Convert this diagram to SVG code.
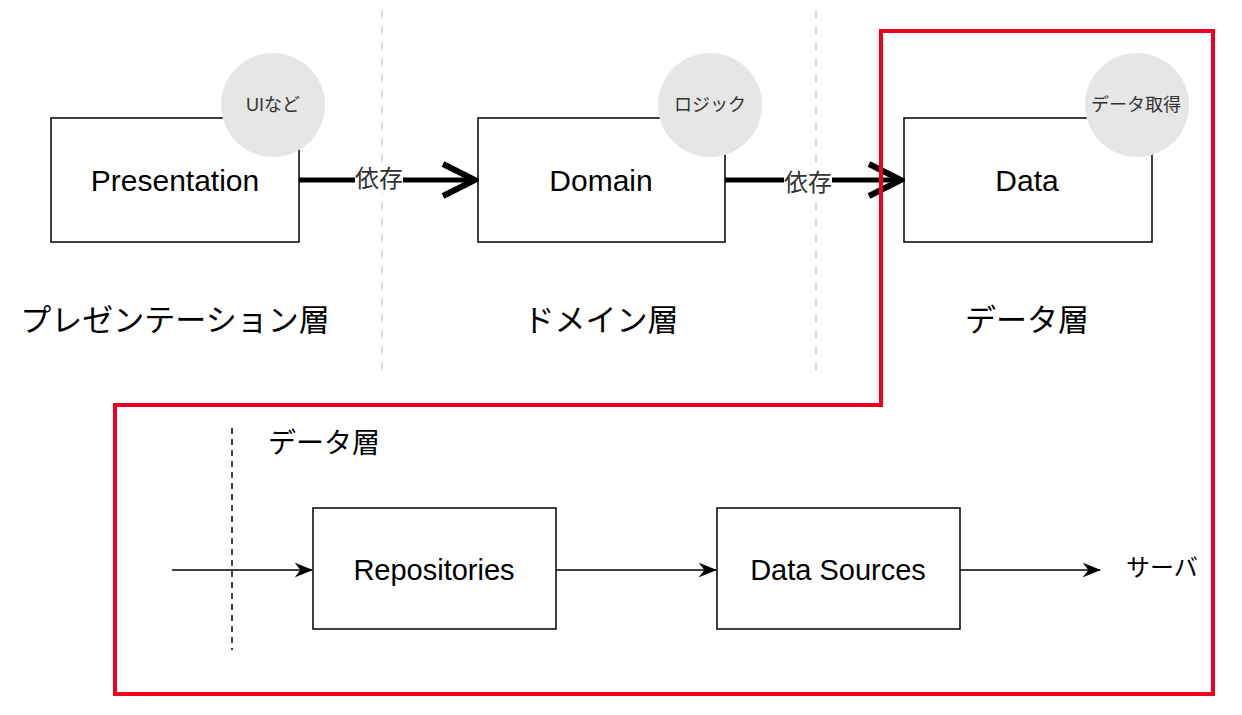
<svg xmlns="http://www.w3.org/2000/svg" width="1242" height="715" viewBox="0 0 1242 715">
<style>
.box{fill:#fff;stroke:#000;stroke-width:1.5}
.circ{fill:#e6e6e6;stroke:none}
.t{font-family:"Liberation Sans","Noto Sans CJK JP",sans-serif;fill:#000;text-anchor:middle;dominant-baseline:central}
.ct{font-family:"Liberation Sans","Noto Sans CJK JP",sans-serif;fill:#333;text-anchor:middle;dominant-baseline:central;font-size:18px}
.sep{stroke:#ddd;stroke-width:2;stroke-dasharray:8 8;fill:none}
.thick{stroke:#000;stroke-width:5;fill:none}
.thin{stroke:#000;stroke-width:1.5;fill:none}
</style>
<defs>
<marker id="open" viewBox="0 0 10 10" refX="9" refY="5" markerWidth="8" markerHeight="8" markerUnits="strokeWidth" orient="auto">
<path d="M1,1 L9,5 L1,9" fill="none" stroke="#000" stroke-width="1.5"/>
</marker>
<marker id="fill" viewBox="0 0 10 10" refX="9.5" refY="5" markerWidth="18" markerHeight="18" markerUnits="userSpaceOnUse" orient="auto">
<path d="M0,1 L10,5 L0,9 L3,5 Z" fill="#000"/>
</marker>
</defs>
<rect width="1242" height="715" fill="#fff"/>
<g id="separators">
<line class="sep" x1="382" y1="10" x2="382" y2="372"/>
<line class="sep" x1="816" y1="10" x2="816" y2="372"/>
</g>
<g id="presentation">
<rect class="box" x="51" y="118" width="248" height="124"/>
<text class="t" x="175" y="180" font-size="30">Presentation</text>
<circle class="circ" cx="273" cy="105" r="52"/>
<text class="ct" x="273" y="105">UIなど</text>
</g>
<g id="domain">
<rect class="box" x="478" y="118" width="247" height="124"/>
<text class="t" x="601" y="180" font-size="30">Domain</text>
<circle class="circ" cx="710" cy="105" r="52"/>
<text class="ct" x="710" y="105">ロジック</text>
</g>
<g id="data">
<rect class="box" x="904" y="118" width="248" height="124"/>
<text class="t" x="1027" y="180" font-size="30">Data</text>
<circle class="circ" cx="1137" cy="105" r="52"/>
<text class="ct" x="1136" y="105">データ取得</text>
</g>
<g id="layer-labels">
<text class="t" x="175" y="320" font-size="31">プレゼンテーション層</text>
<text class="t" x="601" y="320" font-size="31">ドメイン層</text>
<text class="t" x="1027" y="320" font-size="31">データ層</text>
</g>
<g id="connectors">
<line class="thick" x1="299" y1="180" x2="475" y2="180" marker-end="url(#open)"/>
<rect x="355" y="165" width="48" height="28" fill="#fff"/>
<text class="t" x="379" y="178" font-size="24" style="fill:#333">依存</text>
<line class="thick" x1="725" y1="180" x2="901" y2="180" marker-end="url(#open)"/>
<rect x="784" y="168" width="48" height="28" fill="#fff"/>
<text class="t" x="808" y="182" font-size="24" style="fill:#333">依存</text>
<line class="thin" x1="172" y1="570" x2="312" y2="570" marker-end="url(#fill)"/>
<line class="thin" x1="556" y1="570" x2="716" y2="570" marker-end="url(#fill)"/>
<line class="thin" x1="960" y1="570" x2="1100" y2="570" marker-end="url(#fill)"/>
</g>
<g id="highlight">
<path d="M881,31 L1213,31 L1213,694 L115,694 L115,405 L881,405 Z" fill="none" stroke="#f0001e" stroke-width="4"/>
</g>
<g id="data-detail">
<line x1="232" y1="428" x2="232" y2="650" stroke="#000" stroke-width="1.5" stroke-dasharray="6 5"/>
<text class="t" x="268" y="443" font-size="28" style="text-anchor:start">データ層</text>
</g>
<g id="repositories">
<rect class="box" x="313" y="508" width="243" height="121"/>
<text class="t" x="434" y="570" font-size="29">Repositories</text>
</g>
<g id="datasources">
<rect class="box" x="717" y="508" width="243" height="121"/>
<text class="t" x="838" y="570" font-size="29">Data Sources</text>
</g>
<g id="server">
<text class="t" x="1162" y="567" font-size="24">サーバ</text>
</g>
</svg>
